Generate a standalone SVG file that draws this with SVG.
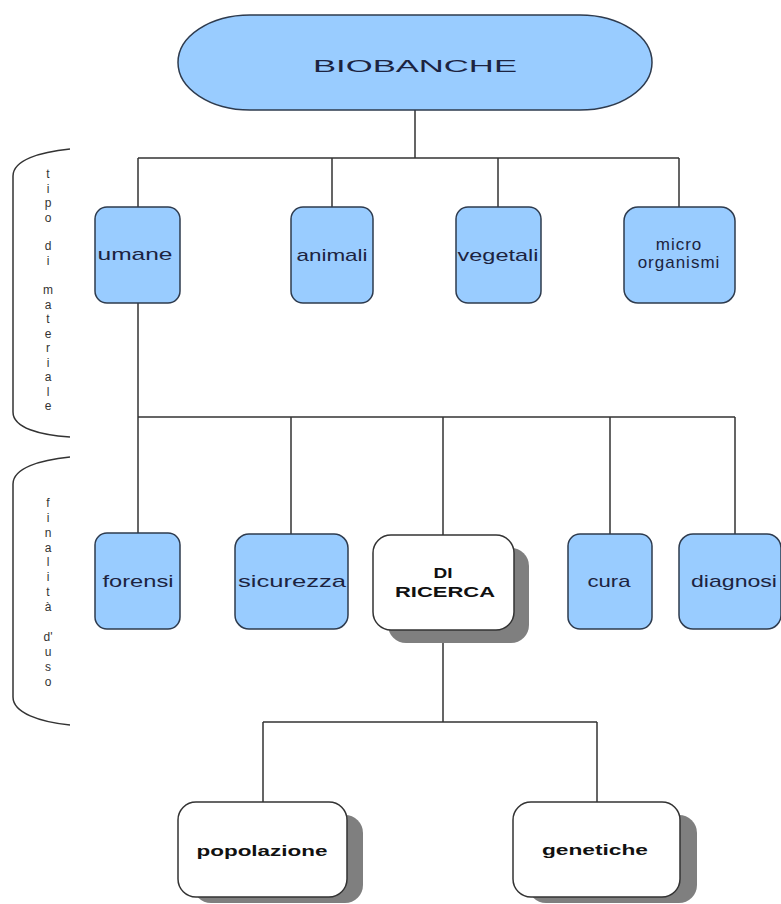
<svg xmlns="http://www.w3.org/2000/svg" width="781" height="904" viewBox="0 0 781 904">
<defs>
<style>
.blue{fill:#99ccff;stroke:#2e3b4e;stroke-width:1.5}
.white{fill:#ffffff;stroke:#333333;stroke-width:1.5}
.shadow{fill:#7f7f7f}
.lbl{font-family:"Liberation Sans",Arial,sans-serif;font-size:17px;fill:#1c2340;text-anchor:middle}
.bold{font-family:"Liberation Sans",Arial,sans-serif;font-size:15px;font-weight:bold;fill:#111111;text-anchor:middle}
.side{font-family:"Liberation Sans",Arial,sans-serif;font-size:12px;fill:#333333;text-anchor:middle}
.conn{stroke:#333333;stroke-width:1.5;fill:none}
</style>
</defs>
<rect width="781" height="904" fill="#ffffff"/>

<g id="connectors" class="conn">
<path d="M415,110 V158 M138,158 H679 M138,158 V207 M332,158 V207 M498,158 V207 M679,158 V207"/>
<path d="M138,303 V417 M138,417 H735 M138,417 V533 M291,417 V534 M443,417 V535 M610,417 V534 M735,417 V534"/>
<path d="M443,630 V722 M263,722 H597 M263,722 V802 M597,722 V802"/>
</g>

<g id="brackets" class="conn">
<path d="M70,149 C40,152 13,160 13,176 L13,412 C13,428 40,435 70,437"/>
<path d="M70,457 C40,460 13,468 13,484 L13,697 C13,713 40,722 70,725"/>
</g>

<g id="side-tipo-di-materiale" class="side">
<text x="48" y="178">t</text>
<text x="48" y="192.5">i</text>
<text x="48" y="207">p</text>
<text x="48" y="221.5">o</text>
<text x="48" y="250">d</text>
<text x="48" y="264.5">i</text>
<text x="48" y="294">m</text>
<text x="48" y="308.5">a</text>
<text x="48" y="323">t</text>
<text x="48" y="337.5">e</text>
<text x="48" y="352">r</text>
<text x="48" y="366.5">i</text>
<text x="48" y="381">a</text>
<text x="48" y="395.5">l</text>
<text x="48" y="410">e</text>
</g>

<g id="side-finalita-duso" class="side">
<text x="48" y="507">f</text>
<text x="48" y="522">i</text>
<text x="48" y="537">n</text>
<text x="48" y="551.5">a</text>
<text x="48" y="566">l</text>
<text x="48" y="581">i</text>
<text x="48" y="596">t</text>
<text x="48" y="611">à</text>
<text x="48" y="641">d'</text>
<text x="48" y="656">u</text>
<text x="48" y="671">s</text>
<text x="48" y="686">o</text>
</g>

<g id="biobanche">
<rect class="blue" x="178" y="15" width="474" height="95" rx="72" ry="47.5"/>
<text class="lbl" x="415" y="72" font-size="23" textLength="204" lengthAdjust="spacingAndGlyphs">BIOBANCHE</text>
</g>

<g id="umane">
<rect class="blue" x="95" y="207" width="85" height="96" rx="12"/>
<text class="lbl" x="135" y="260" textLength="75" lengthAdjust="spacingAndGlyphs">umane</text>
</g>
<g id="animali">
<rect class="blue" x="291" y="207" width="82" height="96" rx="12"/>
<text class="lbl" x="332" y="261" textLength="71" lengthAdjust="spacingAndGlyphs">animali</text>
</g>
<g id="vegetali">
<rect class="blue" x="456" y="207" width="85" height="96" rx="12"/>
<text class="lbl" x="498" y="261" textLength="81" lengthAdjust="spacingAndGlyphs">vegetali</text>
</g>
<g id="microorganismi">
<rect class="blue" x="624" y="207" width="111" height="96" rx="14"/>
<text class="lbl" font-size="14"><tspan x="679" y="250" letter-spacing="1">micro</tspan><tspan x="679" y="268" letter-spacing="1">organismi</tspan></text>
</g>

<g id="forensi">
<rect class="blue" x="95" y="533" width="85" height="96" rx="12"/>
<text class="lbl" x="138" y="587" textLength="71" lengthAdjust="spacingAndGlyphs">forensi</text>
</g>
<g id="sicurezza">
<rect class="blue" x="235" y="534" width="113" height="95" rx="14"/>
<text class="lbl" x="292" y="587" textLength="108" lengthAdjust="spacingAndGlyphs">sicurezza</text>
</g>
<g id="di-ricerca">
<rect class="shadow" x="388" y="548" width="141" height="95" rx="18"/>
<rect class="white" x="373" y="535" width="141" height="95" rx="18"/>
<text class="bold" x="443" y="578" textLength="19" lengthAdjust="spacingAndGlyphs">DI</text>
<text class="bold" x="445" y="597" textLength="100" lengthAdjust="spacingAndGlyphs">RICERCA</text>
</g>
<g id="cura">
<rect class="blue" x="568" y="534" width="84" height="95" rx="12"/>
<text class="lbl" x="609" y="587" textLength="43" lengthAdjust="spacingAndGlyphs">cura</text>
</g>
<g id="diagnosi">
<rect class="blue" x="679" y="534" width="102" height="95" rx="14"/>
<text class="lbl" x="734" y="587" textLength="86" lengthAdjust="spacingAndGlyphs">diagnosi</text>
</g>

<g id="popolazione">
<rect class="shadow" x="193" y="815" width="170" height="88" rx="18"/>
<rect class="white" x="178" y="802" width="169" height="95" rx="18"/>
<text class="bold" x="262" y="856" textLength="131" lengthAdjust="spacingAndGlyphs">popolazione</text>
</g>
<g id="genetiche">
<rect class="shadow" x="528" y="815" width="169" height="88" rx="18"/>
<rect class="white" x="513" y="802" width="167" height="95" rx="18"/>
<text class="bold" x="595" y="855" textLength="106" lengthAdjust="spacingAndGlyphs">genetiche</text>
</g>
</svg>
